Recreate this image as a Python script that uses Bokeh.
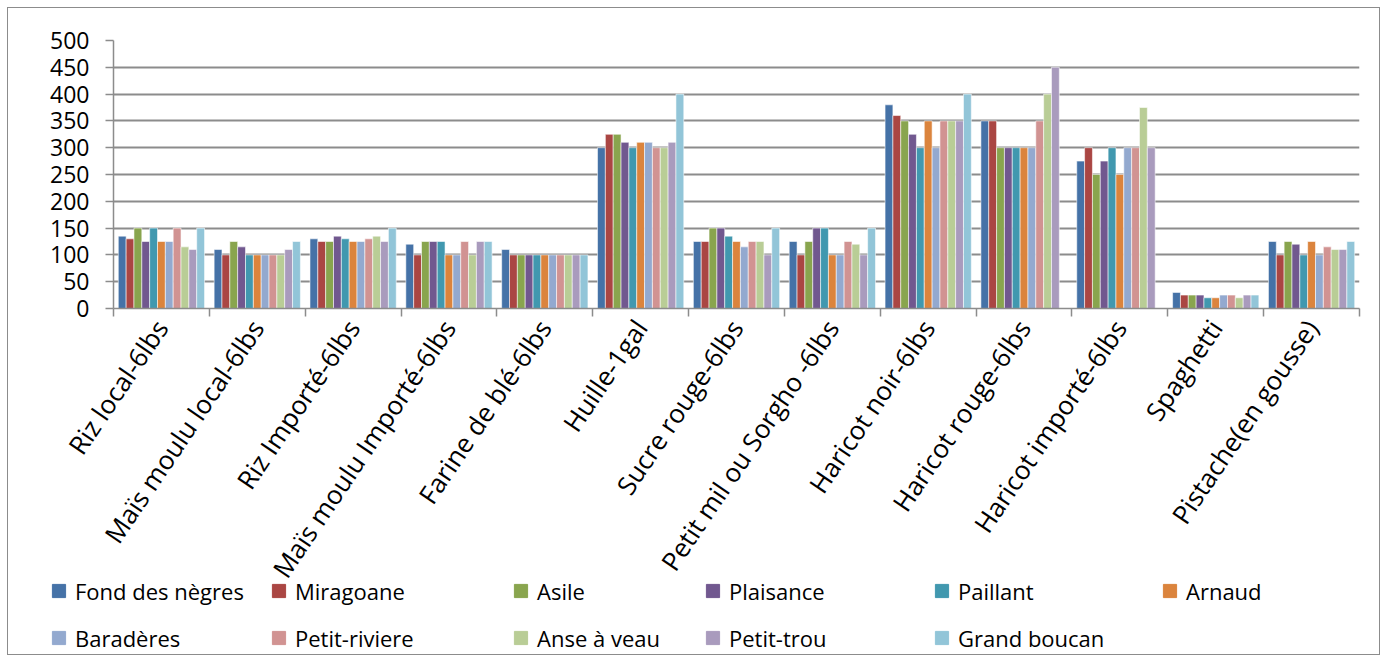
import math
from bokeh.plotting import figure
from bokeh.layouts import column
from bokeh.models import ColumnDataSource, Range1d, FixedTicker, Legend, LegendItem
from bokeh.transform import dodge
from bokeh.embed import file_html
from bokeh.resources import INLINE

nan = float("nan")

categories = ["Riz local-6lbs", "Maïs moulu local-6lbs", "Riz Importé-6lbs",
              "Maïs moulu Importé-6lbs", "Farine de blé-6lbs", "Huille-1gal",
              "Sucre rouge-6lbs", "Petit mil ou Sorgho -6lbs", "Haricot noir-6lbs",
              "Haricot rouge-6lbs", "Haricot importé-6lbs", "Spaghetti",
              "Pistache(en gousse)"]

series_names = ["Fond des nègres", "Miragoane", "Asile", "Plaisance", "Paillant",
                "Arnaud", "Baradères", "Petit-riviere", "Anse à veau", "Petit-trou",
                "Grand boucan"]

fond_des_negres = [135, 110, 130, 120, 110, 300, 125, 125, 380, 350, 275, 30, 125]
miragoane       = [130, 100, 125, 100, 100, 325, 125, 100, 360, 350, 300, 25, 100]
asile           = [150, 125, 125, 125, 100, 325, 150, 125, 350, 300, 250, 25, 125]
plaisance       = [125, 115, 135, 125, 100, 310, 150, 150, 325, 300, 275, 25, 120]
paillant        = [150, 100, 130, 125, 100, 300, 135, 150, 300, 300, 300, 20, 100]
arnaud          = [125, 100, 125, 100, 100, 310, 125, 100, 350, 300, 250, 20, 125]
baraderes       = [125, 100, 125, 100, 100, 310, 115, 100, 300, 300, 300, 25, 100]
petit_riviere   = [150, 100, 130, 125, 100, 300, 125, 125, 350, 350, 300, 25, 115]
anse_a_veau     = [115, 100, 135, 100, 100, 300, 125, 120, 350, 400, 375, 20, 110]
petit_trou      = [110, 110, 125, 125, 100, 310, 100, 100, 350, 450, 300, 25, 110]
grand_boucan    = [150, 125, 150, 125, 100, 400, 150, 150, 400, nan, nan, 25, 125]

y_ticks = [0, 50, 100, 150, 200, 250, 300, 350, 400, 450, 500]

series_values = [fond_des_negres, miragoane, asile, plaisance, paillant, arnaud,
                 baraderes, petit_riviere, anse_a_veau, petit_trou, grand_boucan]
colors = ["#4572A7", "#AA4643", "#89A54E", "#71588F", "#4198AF", "#DB843D",
          "#93A9CF", "#D19392", "#B9CD96", "#A99BBD", "#92C5D8"]

n_cat = len(categories)
centers = [i + 0.5 for i in range(n_cat)]
bounds = [float(i) for i in range(n_cat + 1)]

data = {"x": centers}
keys = []
for k, vals in enumerate(series_values):
    key = f"s{k}"
    keys.append(key)
    data[key] = vals
source = ColumnDataSource(data)

FONT = "Open Sans"
GRID = "#8c8c8c"
OFF = 7  # outer offset of the whole chart box

p = figure(frame_width=1244, frame_height=266,
           x_range=Range1d(0, n_cat), y_range=Range1d(0, 500),
           output_backend="svg", toolbar_location=None,
           min_border_left=105, min_border_right=22, min_border_top=32,
           min_border_bottom=348, margin=(OFF, 0, 0, OFF))
p.outline_line_color = None
p.background_fill_color = "white"
p.border_fill_color = "white"
p.styles = {"border": "1px solid #8c8c8c"}

# y axis
p.yaxis.ticker = FixedTicker(ticks=y_ticks)
p.yaxis.major_tick_out = 8
p.yaxis.major_tick_in = 0
p.yaxis.minor_tick_line_color = None
p.yaxis.axis_line_color = GRID
p.yaxis.axis_line_width = 1.5
p.yaxis.major_tick_line_color = GRID
p.yaxis.major_tick_line_width = 1.5
p.yaxis.major_label_text_font = FONT
p.yaxis.major_label_text_font_size = "23px"
p.yaxis.major_label_text_color = "black"
p.yaxis.major_label_standoff = 16

p.ygrid.ticker = FixedTicker(ticks=y_ticks)
p.ygrid.grid_line_color = GRID
p.ygrid.grid_line_width = 1.8
p.xgrid.visible = False

# x axis: labels at centers, tick marks at boundaries
p.xaxis.ticker = FixedTicker(ticks=centers, minor_ticks=bounds)
p.xaxis.major_tick_line_color = None
p.xaxis.minor_tick_out = 8
p.xaxis.minor_tick_in = 0
p.xaxis.minor_tick_line_color = GRID
p.xaxis.minor_tick_line_width = 1.5
p.xaxis.axis_line_color = GRID
p.xaxis.axis_line_width = 1.5
p.xaxis.major_label_overrides = {c: lab for c, lab in zip(centers, categories)}
p.xaxis.major_label_orientation = math.radians(56)
p.xaxis.major_label_text_font = FONT
p.xaxis.major_label_text_font_size = "26px"
p.xaxis.major_label_text_color = "black"
p.xaxis.major_label_standoff = 6

group_width = 0.9
bw = group_width / len(series_names)
for j, (key, name, col) in enumerate(zip(keys, series_names, colors)):
    off = (j - (len(series_names) - 1) / 2) * bw
    p.vbar(x=dodge("x", off, range=p.x_range), top=key, width=bw, bottom=0,
           source=source, fill_color=col, line_color="white", line_alpha=0.55,
           line_width=1)

# legend strip, overlapping the bottom of the chart
LEG_H = 100
lg = figure(width=1371, height=LEG_H, x_range=Range1d(0, 1), y_range=Range1d(-2, -1),
            output_backend="svg", toolbar_location=None,
            x_axis_location=None, y_axis_location=None,
            min_border=0, margin=(-LEG_H - 1, 0, 0, OFF + 1))
try:
    lg.frame_align = False
except AttributeError:
    pass
lg.outline_line_color = None
lg.grid.visible = False
lg.background_fill_alpha = 0
lg.border_fill_alpha = 0

col_px = [34, 254, 496, 688, 917, 1145]
row_vy = [47, 0]
GW = 33
for k, (key, name, col) in enumerate(zip(keys, series_names, colors)):
    row, c = divmod(k, 6)
    r = lg.scatter(x="x", y=key, marker="square", size=13, source=source,
                   fill_color=col, line_color=col)
    leg = Legend(items=[LegendItem(label=name, renderers=[r])],
                 location=(col_px[c], row_vy[row]),
                 orientation="horizontal", padding=0, margin=0, spacing=0,
                 border_line_color=None, background_fill_alpha=0,
                 glyph_width=GW, glyph_height=GW, label_standoff=-3,
                 label_text_font=FONT, label_text_font_size="22px",
                 label_text_color="black", label_height=GW)
    lg.add_layout(leg)

layout = column(p, lg, spacing=0)
open("out.html", "w").write(file_html(layout, INLINE))
